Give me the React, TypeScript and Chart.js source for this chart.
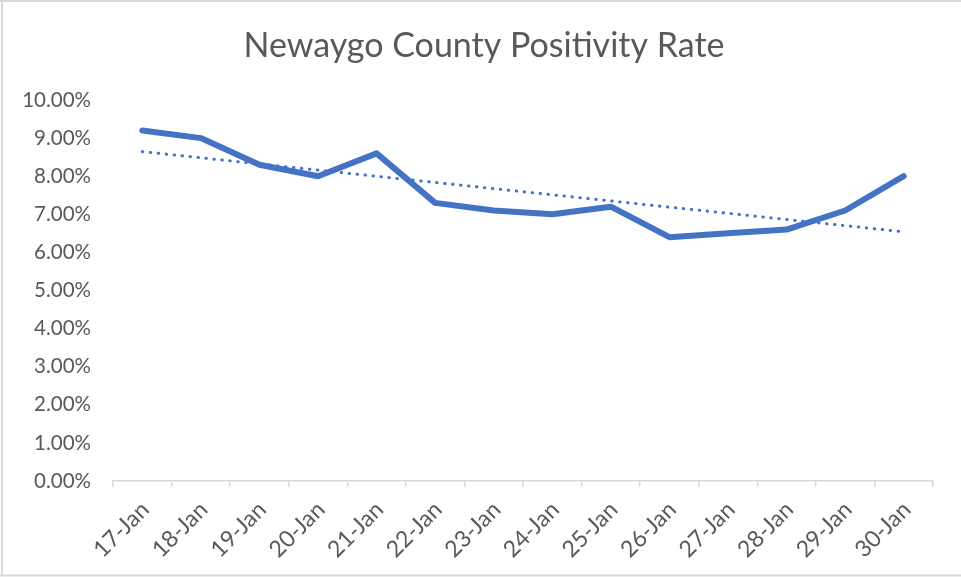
import React, { useEffect, useRef } from "react";
import { Chart, registerables } from "chart.js";

Chart.register(...registerables);

const categories = [
  "17-Jan", "18-Jan", "19-Jan", "20-Jan", "21-Jan", "22-Jan", "23-Jan",
  "24-Jan", "25-Jan", "26-Jan", "27-Jan", "28-Jan", "29-Jan", "30-Jan",
];
const positivityRate = [9.2, 9.0, 8.3, 8.0, 8.6, 7.3, 7.1, 7.0, 7.2, 6.4, 6.5, 6.6, 7.1, 8.0];
const yTicks = [0, 1, 2, 3, 4, 5, 6, 7, 8, 9, 10];
const chartTitle = "Newaygo County Positivity Rate";

function linearTrend(values: number[]): number[] {
  const n = values.length;
  const mx = (n - 1) / 2;
  const my = values.reduce((a, b) => a + b, 0) / n;
  let sxy = 0;
  let sxx = 0;
  values.forEach((v, i) => {
    sxy += (i - mx) * (v - my);
    sxx += (i - mx) * (i - mx);
  });
  const slope = sxy / sxx;
  return values.map((_, i) => my + slope * (i - mx));
}

const FONT = "Lato, 'Open Sans', sans-serif";
const TEXT = "#595959";
const BLUE = "#4472C4";

const decorPlugin = {
  id: "decor",
  afterDraw(chart: any) {
    const ctx = chart.ctx;
    ctx.save();
    ctx.strokeStyle = "#d9d9d9";
    ctx.lineWidth = 2;
    ctx.beginPath();
    ctx.moveTo(2, 0);
    ctx.lineTo(2, 576);
    ctx.moveTo(0, 1);
    ctx.lineTo(961, 1);
    ctx.moveTo(0, 575.5);
    ctx.lineTo(961, 575.5);
    ctx.stroke();
    ctx.fillStyle = TEXT;
    ctx.font = `34px ${FONT}`;
    ctx.textAlign = "center";
    ctx.textBaseline = "alphabetic";
    ctx.fillText(chartTitle, 484, 57);
    ctx.restore();
  },
};

export default function App() {
  const ref = useRef<HTMLCanvasElement | null>(null);

  useEffect(() => {
    if (!ref.current) return;
    const chart = new Chart(ref.current, {
      type: "line",
      data: {
        labels: categories,
        datasets: [
          {
            label: "Positivity Rate",
            data: positivityRate,
            borderColor: BLUE,
            backgroundColor: BLUE,
            borderWidth: 6,
            pointRadius: 0,
            tension: 0,
            borderJoinStyle: "round",
            borderCapStyle: "round",
          },
          {
            label: "Linear (Positivity Rate)",
            data: linearTrend(positivityRate),
            borderColor: BLUE,
            backgroundColor: BLUE,
            borderWidth: 3,
            borderDash: [0.5, 7.5],
            borderCapStyle: "round",
            pointRadius: 0,
            tension: 0,
          },
        ],
      },
      options: {
        animation: false,
        responsive: false,
        maintainAspectRatio: false,
        layout: { padding: { left: 0, right: 28, top: 100, bottom: 0 } },
        plugins: {
          legend: { display: false },
          tooltip: { enabled: false },
          title: { display: false },
        },
        scales: {
          x: {
            offset: true,
            grid: {
              display: true,
              offset: true,
              drawOnChartArea: false,
              drawTicks: true,
              tickLength: 6,
              color: "#d9d9d9",
              lineWidth: 1.5,
            },
            border: { display: true, color: "#d9d9d9", width: 1.5 },
            ticks: {
              color: TEXT,
              font: { family: FONT, size: 23 },
              minRotation: 45,
              maxRotation: 45,
              padding: 9,
              labelOffset: 3,
              autoSkip: false,
            },
            afterFit(scale: any) {
              scale.height = 96;
            },
          },
          y: {
            min: 0,
            max: 10,
            grid: { display: false, drawTicks: false },
            border: { display: false },
            afterBuildTicks(scale: any) {
              scale.ticks = yTicks.map((v) => ({ value: v }));
            },
            ticks: {
              color: TEXT,
              font: { family: FONT, size: 20.5 },
              padding: 22,
              callback: (v: any) => Number(v).toFixed(2) + "%",
            },
            afterFit(scale: any) {
              scale.width = 113;
            },
          },
        },
      },
      plugins: [decorPlugin],
    });
    return () => chart.destroy();
  }, []);

  return (
    <div style={{ position: "absolute", left: 0, top: 0, width: 961, height: 577, background: "#fff" }}>
      <canvas ref={ref} width={961} height={577} style={{ width: 961, height: 577, display: "block" }} />
    </div>
  );
}
